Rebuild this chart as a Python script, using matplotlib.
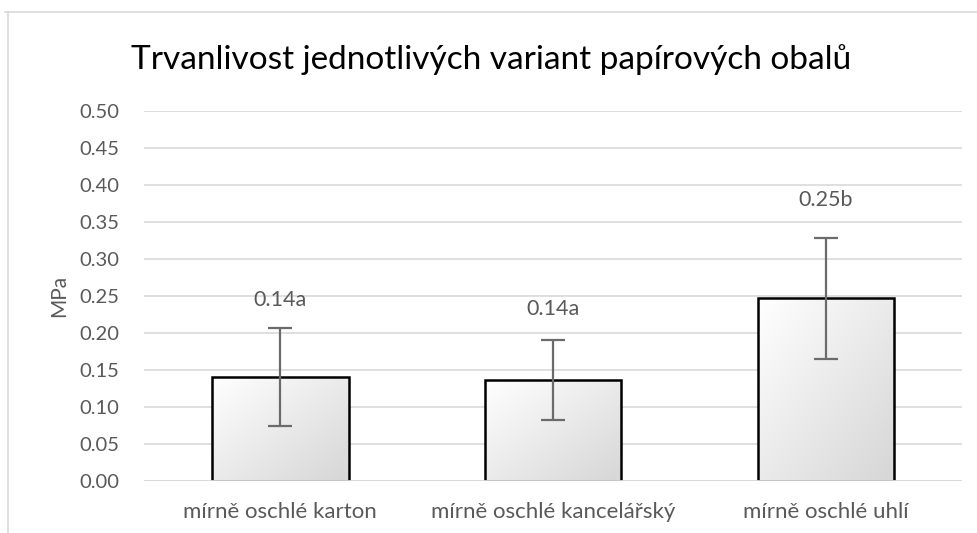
import numpy as np
import matplotlib.pyplot as plt
from matplotlib.lines import Line2D

# ── Data ──────────────────────────────────────────────────────────────────────
categories = ["mírně oschlé karton", "mírně oschlé kancelářský", "mírně oschlé uhlí"]
values = [0.141, 0.136, 0.247]
errors = [0.066, 0.054, 0.082]
letters = ["a", "a", "b"]
label_y = [0.245, 0.232, 0.380]

title = "Trvanlivost jednotlivých variant papírových obalů"
ylabel = "MPa"
yticks = [0.00, 0.05, 0.10, 0.15, 0.20, 0.25, 0.30, 0.35, 0.40, 0.45, 0.50]

plt.rcParams["font.family"] = ["Lato", "DejaVu Sans"]
grey_txt = "#595959"
grid_col = "#d9d9d9"

W, H = 977, 533
fig = plt.figure(figsize=(W / 100, H / 100), dpi=100)
ax = fig.add_axes([144 / W, 1 - 481 / H, (962 - 144) / W, (481 - 111) / H])

x = np.arange(len(categories))
bars = ax.bar(x, values, width=0.5, facecolor="none", edgecolor="black",
              linewidth=1.8, zorder=3)

# gradient fill, white top-left to light grey bottom-right
gx, gy = np.meshgrid(np.linspace(0, 1, 100), np.linspace(0, 1, 100))
t = (gx + gy) / 2
lo, hi = np.array([1.0, 1.0, 1.0]), np.array([0.84, 0.84, 0.84])
grad = lo + (hi - lo) * t[..., None]
for b in bars:
    x0, w, h = b.get_x(), b.get_width(), b.get_height()
    im = ax.imshow(grad, extent=(x0, x0 + w, 0, h), origin="upper",
                   aspect="auto", zorder=2)
    im.set_clip_path(b)

ax.errorbar(x, values, yerr=errors, fmt="none", ecolor="#6b6b6b",
            elinewidth=1.6, capsize=8.5, capthick=1.6, zorder=4)

for xi, v, l, ly in zip(x, values, letters, label_y):
    ax.text(xi, ly, f"{v:.2f}{l}", ha="center", va="center",
            fontsize=15.5, color=grey_txt, zorder=5)

ax.set_xlim(-0.5, len(categories) - 0.5)
ax.set_ylim(0, 0.5)
ax.set_yticks(yticks)
ax.set_yticklabels([f"{t:.2f}" for t in yticks])
ax.set_xticks(x)
ax.set_xticklabels(categories)
ax.tick_params(axis="both", length=0, colors=grey_txt)
ax.tick_params(axis="y", pad=18, labelsize=14.5)
ax.tick_params(axis="x", pad=15, labelsize=16)
ax.grid(axis="y", color=grid_col, linewidth=1.2, zorder=0)
ax.set_axisbelow(True)
for s in ax.spines.values():
    s.set_visible(False)
ax.axhline(0, color=grid_col, linewidth=2, zorder=3.5)

ax.set_ylabel(ylabel, fontsize=15, color=grey_txt, labelpad=7)

fig.text(0.5 * (135 + 848) / W, 1 - 60 / H, title, ha="center", va="center",
         fontsize=24, color="black")

# chart border (top and left visible)
fig.add_artist(Line2D([5 / W, 1], [1 - 12 / H, 1 - 12 / H], color=grid_col, lw=1.2))
fig.add_artist(Line2D([8 / W, 8 / W], [0, 1 - 12 / H], color=grid_col, lw=1.2))

fig.savefig("out.png", dpi=100)
